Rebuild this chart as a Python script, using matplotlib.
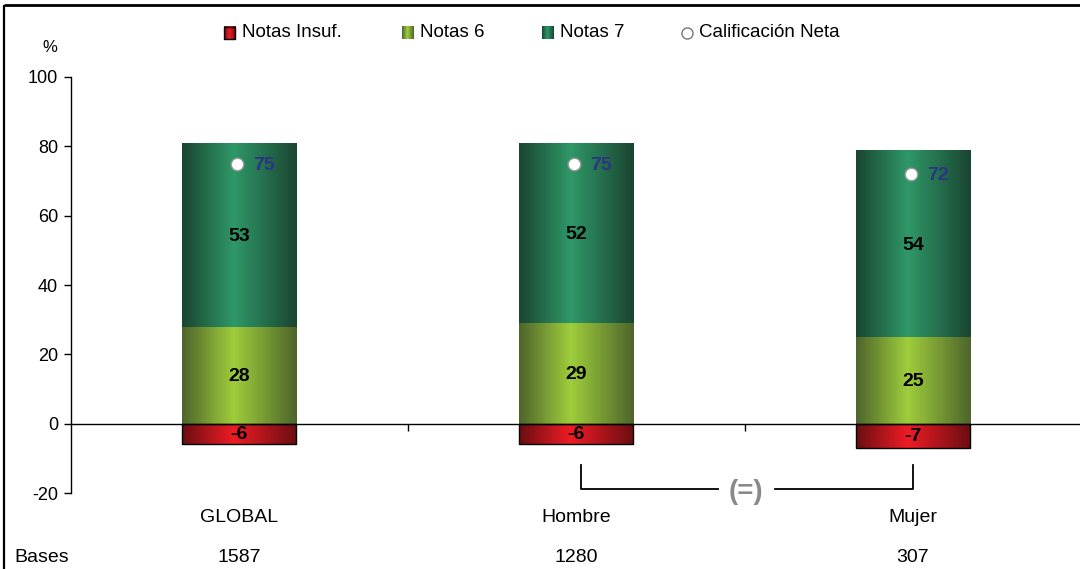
import numpy as np
import matplotlib
matplotlib.use("Agg")
import matplotlib.pyplot as plt
from matplotlib.colors import LinearSegmentedColormap
from matplotlib.lines import Line2D

plt.rcParams['font.family'] = ['Liberation Sans', 'DejaVu Sans']
plt.rcParams['axes.unicode_minus'] = False

# ---- data ----
categories = ["GLOBAL", "Hombre", "Mujer"]
bases = ["1587", "1280", "307"]
notas_insuf = [-6, -6, -7]
notas_6 = [28, 29, 25]
notas_7 = [53, 52, 54]
calif_neta = [75, 75, 72]
series_names = ["Notas Insuf.", "Notas 6", "Notas 7", "Calificación Neta"]

# ---- cylinder-like shading ----
def shade(edge, mid):
    return LinearSegmentedColormap.from_list(
        "c", [(0.0, edge), (0.45, mid), (1.0, edge)])

cmap_red = shade("#6a0e12", "#ee1c25")
cmap_l6 = shade("#4e652c", "#9fcd3b")
cmap_d7 = shade("#1a4531", "#2f9868")
grad = np.linspace(0, 1, 256).reshape(1, -1)

W, H = 1080, 569
fig = plt.figure(figsize=(W / 100, H / 100), dpi=100)
ax = fig.add_axes([70.5 / W, 76 / H, (1081.5 - 70.5) / W, (493 - 77) / H])
ax.set_xlim(-0.5, 2.5)
ax.set_ylim(-20, 100)

x = np.arange(len(categories))
bw = 0.34


def shaded_bars(bottom, height, cmap, edge=None):
    bars = ax.bar(x, height, bw, bottom=bottom, color="none",
                  edgecolor=edge if edge else "none",
                  linewidth=1.0 if edge else 0, zorder=3)
    for b in bars:
        x0, y0 = b.get_x(), b.get_y()
        w, h = b.get_width(), b.get_height()
        im = ax.imshow(grad, extent=[x0, x0 + w, y0, y0 + h], aspect="auto",
                       cmap=cmap, zorder=2, interpolation="bilinear")
        im.set_clip_path(b)
    return bars


shaded_bars(np.zeros(3), notas_insuf, cmap_red, edge="black")
shaded_bars(np.zeros(3), notas_6, cmap_l6)
shaded_bars(np.array(notas_6), notas_7, cmap_d7)

# value labels: baseline placed half a digit height below the segment centre
half_digit = 2.0
lab_kw = dict(ha="center", va="baseline", fontsize=14, fontweight="bold",
              color="black", zorder=6)
for i in x:
    ax.text(i, notas_insuf[i] / 2 + 0.5 - half_digit, f"{notas_insuf[i]}",
            **lab_kw)
    ax.text(i, notas_6[i] / 2 + 0.4 - half_digit, f"{notas_6[i]}", **lab_kw)
    ax.text(i, notas_6[i] + notas_7[i] / 2 + 0.2 - half_digit,
            f"{notas_7[i]}", **lab_kw)

# net score markers
ax.plot(x - 0.006, calif_neta, ls="none", marker="o", ms=9,
        mfc="white", mec="#9a9a9a", mew=1.0, zorder=7)
for i in x:
    ax.text(i + 0.042, calif_neta[i] + 0.3 - half_digit, f"{calif_neta[i]}",
            ha="left", va="baseline", fontsize=14, fontweight="bold",
            color="#2b3583", zorder=7)

# axes styling
for s in ("top", "right"):
    ax.spines[s].set_visible(False)
ax.spines["bottom"].set_position(("data", 0))
ax.spines["bottom"].set_linewidth(1.0)
ax.spines["left"].set_linewidth(1.0)
ax.set_yticks([-20, 0, 20, 40, 60, 80, 100])
ax.tick_params(axis="y", direction="out", length=5, width=1.0, pad=4,
               labelsize=13)
ax.set_xticks([0.5, 1.5])
ax.set_xticklabels([])
ax.tick_params(axis="x", direction="out", length=5, width=1.0)
ax.patch.set_visible(False)

ax.text(-0.56, 108.5, "%", ha="center", va="center", fontsize=12,
        clip_on=False)

# category names and bases
for i in x:
    ax.text(i, -27.1, categories[i], ha="center", va="center", fontsize=14,
            clip_on=False)
    ax.text(i, -38.6, bases[i], ha="center", va="center", fontsize=14,
            clip_on=False)
ax.text(-0.667, -38.6, "Bases", ha="left", va="center", fontsize=14,
        clip_on=False)

# significance bracket between Hombre and Mujer
bk = dict(color="black", lw=1.3, clip_on=False, zorder=5)
ax.plot([1.015, 1.015, 1.42], [-11.8, -18.8, -18.8], **bk)
ax.plot([1.59, 2.0, 2.0], [-18.8, -18.8, -11.8], **bk)
ax.text(1.505, -19.6, "(=)", ha="center", va="center", fontsize=20,
        fontweight="bold", color="#8a8a8a", clip_on=False)

# legend row
leg_y = 112.7
pw, ph = 0.033, 3.7
leg_items = [(-0.045, cmap_red, "black"), (0.485, cmap_l6, None),
             (0.9, cmap_d7, None)]
for (lx, cm, ec), name in zip(leg_items, series_names[:3]):
    ax.imshow(grad, extent=[lx, lx + pw, leg_y - ph / 2, leg_y + ph / 2],
              aspect="auto", cmap=cm, zorder=6, clip_on=False)
    if ec:
        ax.add_patch(plt.Rectangle((lx, leg_y - ph / 2), pw, ph, fill=False,
                                   ec=ec, lw=1.0, clip_on=False, zorder=7))
    ax.text(lx + pw + 0.02, leg_y, name, ha="left", va="center",
            fontsize=13.5, clip_on=False)
ax.plot([1.328], [leg_y], marker="o", ms=8, mfc="white", mec="#777777",
        mew=1.0, clip_on=False)
ax.text(1.365, leg_y, series_names[3], ha="left", va="center", fontsize=13.5,
        clip_on=False)

ax.set_xlim(-0.5, 2.5)
ax.set_ylim(-20, 100)

# frame lines along the left and top edges
fig.add_artist(Line2D([3.5 / W, 3.5 / W], [-0.01, 1 - 5 / H], color="black",
                      lw=1.6, solid_capstyle="butt",
                      transform=fig.transFigure))
fig.add_artist(Line2D([3.5 / W, 1.01], [1 - 5 / H, 1 - 5 / H], color="black",
                      lw=2.0, solid_capstyle="butt",
                      transform=fig.transFigure))

fig.savefig("out.png", dpi=100)
